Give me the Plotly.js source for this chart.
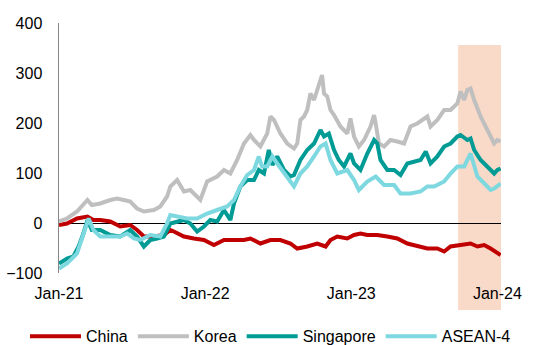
<!DOCTYPE html>
<html><head><meta charset="utf-8">
<script src="https://cdn.plot.ly/plotly-3.0.1.min.js"></script>
<style>html,body{margin:0;padding:0;background:#fff}#chart{width:543px;height:345px}</style>
</head><body><div id="chart"></div>
<script>
const chinaDates = ["2021-01-01","2021-01-21","2021-02-15","2021-03-13","2021-03-28","2021-04-14","2021-05-09","2021-06-03","2021-06-28","2021-07-15","2021-08-01","2021-08-26","2021-09-20","2021-10-06","2021-10-15","2021-11-09","2021-12-04","2021-12-29","2022-01-23","2022-02-17","2022-03-14","2022-04-08","2022-04-24","2022-05-19","2022-06-13","2022-07-08","2022-08-02","2022-08-19","2022-09-13","2022-10-08","2022-10-29","2022-11-10","2022-11-27","2022-12-22","2023-01-08","2023-01-24","2023-02-10","2023-03-07","2023-04-01","2023-04-26","2023-05-21","2023-06-15","2023-07-10","2023-08-04","2023-08-21","2023-09-06","2023-10-01","2023-10-26","2023-11-12","2023-11-29","2023-12-15","2024-01-01","2024-01-09"];
const chinaVals = [-4,-1,9,13,6,6,3,-7,-4,-14,-27,-27,-24,-14,-17,-27,-31,-34,-44,-34,-34,-34,-31,-41,-34,-34,-41,-51,-47,-41,-47,-34,-27,-31,-24,-21,-24,-24,-27,-31,-41,-47,-51,-51,-57,-47,-44,-41,-47,-44,-51,-61,-64];

const koreaDates = ["2021-01-01","2021-01-21","2021-02-15","2021-03-03","2021-03-13","2021-03-24","2021-04-14","2021-05-09","2021-05-26","2021-06-12","2021-06-28","2021-07-15","2021-08-01","2021-08-26","2021-09-11","2021-09-28","2021-10-06","2021-10-23","2021-11-09","2021-11-25","2021-12-20","2022-01-06","2022-01-31","2022-02-17","2022-03-05","2022-03-22","2022-04-08","2022-04-24","2022-05-03","2022-05-19","2022-06-05","2022-06-13","2022-06-22","2022-07-08","2022-07-25","2022-08-11","2022-08-19","2022-08-27","2022-09-05","2022-09-13","2022-09-21","2022-09-30","2022-10-08","2022-10-16","2022-10-20","2022-10-25","2022-11-02","2022-11-10","2022-11-19","2022-12-05","2022-12-22","2022-12-30","2023-01-08","2023-01-20","2023-02-02","2023-02-18","2023-02-27","2023-03-03","2023-03-11","2023-03-24","2023-04-09","2023-04-26","2023-05-13","2023-05-29","2023-06-15","2023-07-10","2023-07-18","2023-08-04","2023-08-21","2023-09-06","2023-09-23","2023-10-01","2023-10-10","2023-10-18","2023-10-26","2023-11-04","2023-11-20","2023-12-07","2023-12-24","2024-01-01","2024-01-09"];
const koreaVals = [3,9,23,36,46,36,39,46,49,46,43,29,23,26,33,53,73,86,63,66,46,83,93,106,99,126,159,176,166,153,179,213,206,179,159,149,159,206,213,226,259,246,266,286,296,259,253,226,216,193,179,209,173,153,166,193,216,199,159,153,166,163,159,193,199,213,193,206,226,226,239,263,246,266,269,246,213,186,159,166,163];

const singaporeDates = ["2021-01-01","2021-01-21","2021-02-06","2021-02-19","2021-03-03","2021-03-13","2021-03-24","2021-04-14","2021-05-09","2021-06-03","2021-06-28","2021-07-15","2021-08-01","2021-08-17","2021-09-03","2021-09-20","2021-10-06","2021-10-23","2021-11-09","2021-11-25","2021-12-12","2021-12-29","2022-01-14","2022-01-31","2022-02-17","2022-03-05","2022-03-14","2022-03-30","2022-04-16","2022-05-03","2022-05-15","2022-05-28","2022-06-09","2022-06-18","2022-06-30","2022-07-17","2022-08-02","2022-08-11","2022-08-27","2022-09-13","2022-09-30","2022-10-16","2022-10-25","2022-11-06","2022-11-19","2022-12-01","2022-12-14","2022-12-30","2023-01-08","2023-01-24","2023-02-10","2023-02-27","2023-03-07","2023-03-15","2023-04-01","2023-04-18","2023-05-04","2023-05-21","2023-06-07","2023-06-23","2023-07-06","2023-07-18","2023-08-04","2023-08-21","2023-09-06","2023-09-23","2023-10-01","2023-10-18","2023-10-26","2023-11-04","2023-11-20","2023-12-07","2023-12-24","2024-01-01","2024-01-09"];
const singaporeVals = [-81,-71,-67,-47,-21,6,-14,-14,-24,-27,-14,-27,-47,-34,-31,-27,-1,3,6,-1,-17,-7,6,3,26,6,39,73,86,86,106,99,146,116,133,106,93,96,126,146,159,186,173,179,146,126,113,139,119,106,139,166,159,126,106,106,96,119,123,126,143,119,133,153,159,173,176,166,169,146,126,113,99,106,109];

const aseanDates = ["2021-01-01","2021-01-21","2021-02-15","2021-03-03","2021-03-16","2021-03-28","2021-04-14","2021-05-09","2021-06-03","2021-06-20","2021-07-07","2021-07-23","2021-08-17","2021-09-11","2021-09-28","2021-10-06","2021-10-23","2021-11-17","2021-12-12","2022-01-06","2022-01-31","2022-02-25","2022-03-14","2022-03-30","2022-04-16","2022-05-03","2022-05-15","2022-05-23","2022-06-05","2022-06-18","2022-06-30","2022-07-17","2022-08-11","2022-08-27","2022-09-13","2022-09-30","2022-10-16","2022-10-29","2022-11-10","2022-11-27","2022-12-22","2023-01-08","2023-01-20","2023-02-10","2023-03-03","2023-03-24","2023-04-18","2023-05-04","2023-05-29","2023-06-23","2023-07-10","2023-07-27","2023-08-21","2023-09-06","2023-09-23","2023-10-10","2023-10-26","2023-11-12","2023-11-29","2023-12-15","2023-12-24","2024-01-09"];
const aseanVals = [-91,-81,-61,-21,9,-14,-27,-27,-27,-21,-31,-34,-24,-27,-1,16,13,9,9,19,26,33,46,73,96,106,133,113,113,133,119,99,73,99,113,133,153,159,126,99,106,86,66,83,93,76,76,59,59,63,73,73,83,99,113,113,139,93,79,66,69,79];

const seriesNames = ["China","Korea","Singapore","ASEAN-4"];
const seriesColors = ["#C00000","#BFBFBF","#009B95","#7DD8E0"];
const tickDates = ["2021-01-01","2022-01-01","2023-01-01","2024-01-01"];
const tickLabels = ["Jan-21","Jan-22","Jan-23","Jan-24"];
const yTicks = [-100,0,100,200,300,400];
const shadeStart = "2023-09-25";
const shadeEnd = "2024-01-10";

const xs = [chinaDates, koreaDates, singaporeDates, aseanDates];
const ys = [chinaVals, koreaVals, singaporeVals, aseanVals];
const traces = seriesNames.map((n,i)=>({
  type:"scatter", mode:"lines", name:n, x:xs[i], y:ys[i],
  line:{color:seriesColors[i], width:4}, hoverinfo:"skip"
}));

const layout = {
  width:543, height:345,
  margin:{l:59, r:42, t:23, b:72, autoexpand:false},
  paper_bgcolor:"#fff", plot_bgcolor:"rgba(0,0,0,0)",
  font:{family:"Liberation Sans, Arial, sans-serif", size:16, color:"#000"},
  showlegend:true,
  legend:{orientation:"h", x:-0.077, xanchor:"left", y:-0.185, yanchor:"top",
    itemwidth:51, font:{size:16}, bgcolor:"rgba(0,0,0,0)", traceorder:"normal"},
  xaxis:{type:"date", range:["2021-01-01", shadeEnd], tickmode:"array",
    tickvals:tickDates, ticktext:tickLabels, showgrid:false, zeroline:false,
    showline:false, ticks:"", ticklabelstandoff:9, tickfont:{size:16}},
  yaxis:{range:[-100,400], tickmode:"array", tickvals:yTicks, showgrid:false,
    zeroline:true, zerolinecolor:"#000", zerolinewidth:1,
    showline:true, linecolor:"#868686", linewidth:1.5, ticks:"",
    ticklabelstandoff:12, tickfont:{size:16}},
  shapes:[{type:"rect", xref:"x", yref:"paper", x0:shadeStart, x1:shadeEnd,
    y0:-0.148, y1:0.912, fillcolor:"#F9D9C7", line:{width:0}, layer:"below"}]
};
Plotly.newPlot("chart", traces, layout, {displayModeBar:false, staticPlot:true});
</script></body></html>
